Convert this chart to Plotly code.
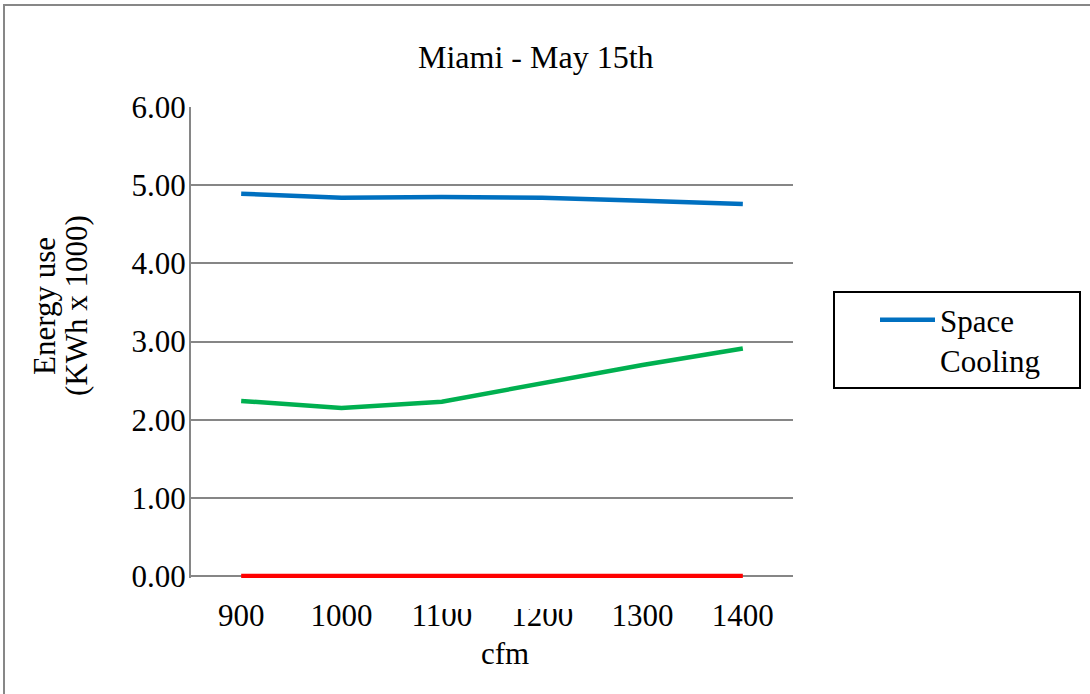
import plotly.graph_objects as go

# Airflow settings (cfm) on the x axis
cfm = ["900", "1000", "1100", "1200", "1300", "1400"]

# Energy use, KWh x 1000
space_cooling = [4.89, 4.84, 4.85, 4.84, 4.80, 4.76]
fan_energy = [2.24, 2.15, 2.23, 2.47, 2.70, 2.91]
space_heating = [0.00, 0.00, 0.00, 0.00, 0.00, 0.00]

y_ticks = [0, 1, 2, 3, 4, 5, 6]
y_tick_text = [f"{v:.2f}" for v in y_ticks]

W, H = 1090, 694
L, R, T = 191, 297, 107
ZERO_Y = 576            # pixel row of the 0.00 line
B = H - ZERO_Y - 2      # leave room so the zero-level line is not clipped
PW, PH = W - L - R, H - T - B
Y_MAX = 6.0
Y_MIN = -Y_MAX * (2 / (ZERO_Y - T))
SERIF = "Liberation Serif, Times New Roman, serif"
FS = 31


def px(x):
    return (x - L) / PW


def py(y):
    return (H - B - y) / PH


fig = go.Figure()
fig.add_trace(go.Scatter(x=cfm, y=space_cooling, mode="lines", name="Space<br>Cooling",
                         line=dict(color="#0070C0", width=4.5), showlegend=True))
fig.add_trace(go.Scatter(x=cfm, y=fan_energy, mode="lines", name="Fan",
                         line=dict(color="#00B050", width=4.5), showlegend=False))
fig.add_trace(go.Scatter(x=cfm, y=space_heating, mode="lines", name="Space Heating",
                         line=dict(color="#FF0000", width=4.5), showlegend=False))

fig.update_layout(
    width=W, height=H,
    margin=dict(l=L, r=R, t=T, b=B, pad=0, autoexpand=False),
    paper_bgcolor="white", plot_bgcolor="white",
    font=dict(family=SERIF, size=FS, color="black"),
    xaxis=dict(type="category", range=[-0.5, 5.5], showgrid=False, zeroline=False,
               showline=False, ticks="", tickfont=dict(size=FS), ticklabelstandoff=16),
    yaxis=dict(range=[Y_MIN, Y_MAX], tickvals=y_ticks, ticktext=y_tick_text,
               showgrid=True, gridcolor="#868686", gridwidth=1.6, zeroline=False,
               showline=True, linecolor="#868686", linewidth=2, ticks="",
               layer="below traces", tickfont=dict(size=FS), ticklabelstandoff=-3),
    showlegend=True,
    legend=dict(x=px(833), y=py(291), xanchor="left", yanchor="top",
                bordercolor="black", borderwidth=2, bgcolor="white",
                font=dict(size=FS), itemwidth=55, indentation=40, valign="top",
                orientation="h", entrywidth=134, tracegroupgap=0),
    annotations=[
        dict(text="Miami - May 15th", x=px(536), y=py(57), xref="paper", yref="paper",
             showarrow=False, font=dict(size=32), xanchor="center", yanchor="middle"),
        dict(text="Energy use", x=px(44), y=py(306), xref="paper", yref="paper",
             showarrow=False, textangle=-90, font=dict(size=31),
             xanchor="center", yanchor="middle"),
        dict(text="(KWh x 1000)", x=px(76), y=py(306), xref="paper", yref="paper",
             showarrow=False, textangle=-90, font=dict(size=31),
             xanchor="center", yanchor="middle"),
        dict(text="cfm", x=px(505), y=py(653), xref="paper", yref="paper",
             showarrow=False, font=dict(size=FS), xanchor="center", yanchor="middle"),
    ],
    shapes=[
        # outer chart frame (left and top edges visible)
        dict(type="rect", xref="paper", yref="paper", x0=px(4), y0=py(5), x1=px(W + 10), y1=py(H + 10),
             line=dict(color="#878787", width=2), fillcolor="rgba(0,0,0,0)", layer="above"),
        # white band clipping the tops of the middle tick labels
        dict(type="rect", xref="paper", yref="paper", x0=px(436), x1=px(580), y0=py(596), y1=py(609),
             line=dict(width=0), fillcolor="white", layer="above"),
    ],
)

fig.write_html("out.html")
